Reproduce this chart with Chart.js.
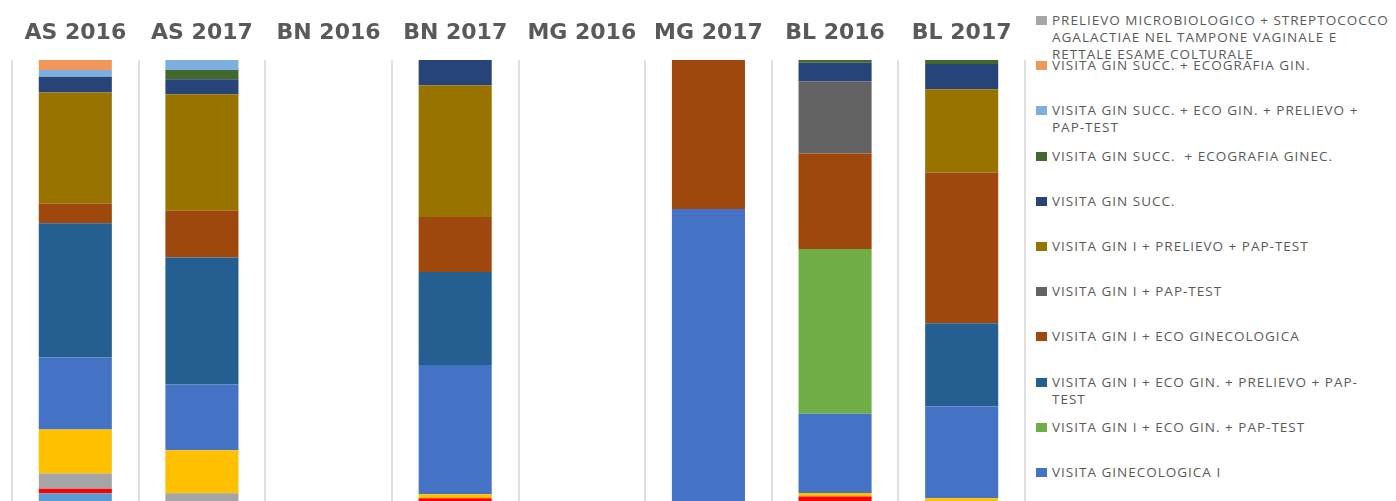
<!DOCTYPE html>
<html>
<head>
<meta charset="utf-8">
<script src="https://cdn.jsdelivr.net/npm/chart.js@4.4.0/dist/chart.umd.min.js"></script>
<style>
  html, body { margin: 0; padding: 0; background: #fff; overflow: hidden; width: 1396px; height: 501px; }
  #wrap { position: absolute; left: 0; top: 0; width: 1030px; height: 510px; }
  #legend { position: absolute; left: 1036px; top: 0; width: 360px; font-family: "Open Sans", sans-serif; font-size: 13.5px; letter-spacing: 1px; color: #595959; }
  .legend-item { position: absolute; left: 0; white-space: nowrap; line-height: 17px; }
  .legend-dot { position: absolute; left: 0; top: 4px; width: 11px; height: 9px; }
  .legend-text { position: absolute; left: 16px; top: 0; }
</style>
</head>
<body>
<div id="wrap"><canvas id="chart"></canvas></div>
<div id="legend"></div>
<script>
// ── Categories (top axis) ──
const categories = ['AS 2016', 'AS 2017', 'BN 2016', 'BN 2017', 'MG 2016', 'MG 2017', 'BL 2016', 'BL 2017'];

// ── Series values, % of each column (bottom of stack first) ──
const serieCeleste      = [3.7, 0,    0, 0,    0, 0,    0,    0];
const serieRossa        = [1.0, 0,    0, 2.6,  0, 0,    3.0,  0];
const serieGrigia       = [3.4, 3.7,  0, 0,    0, 0,    0,    0];
const serieGialla       = [9.8, 9.6,  0, 0.9,  0, 0,    0.8,  2.6];
const visitaGinI        = [16.0, 14.6, 0, 28.7, 0, 66.9, 17.6, 20.4];
const ginIEcoPap        = [0,    0,    0, 0,    0, 0,    36.6, 0];
const ginIEcoPrelPap    = [29.8, 28.2, 0, 20.7, 0, 0,    0,    18.5];
const ginIEco           = [4.4,  10.4, 0, 12.2, 0, 33.1, 21.2, 33.5];
const ginIPap           = [0,    0,    0, 0,    0, 0,    16.1, 0];
const ginIPrelPap       = [24.7, 25.9, 0, 29.3, 0, 0,    0,    18.5];
const ginSucc           = [3.5,  3.3,  0, 5.6,  0, 0,    4.1,  5.6];
const ginSuccEcoGinec   = [0,    2.1,  0, 0,    0, 0,    0.6,  0.9];
const ginSuccEcoPrelPap = [1.5,  2.2,  0, 0,    0, 0,    0,    0];
const ginSuccEcoGin     = [2.2,  0,    0, 0,    0, 0,    0,    0];
const prelievoMicro     = [0,    0,    0, 0,    0, 0,    0,    0];

// ── Series definitions: [label shown in legend, data, colour] ──
const SERIES = [
  [null, serieCeleste, '#5B9BD5'],
  [null, serieRossa, '#FF0000'],
  [null, serieGrigia, '#A5A5A5'],
  [null, serieGialla, '#FFC000'],
  ['VISITA GINECOLOGICA I', visitaGinI, '#4472C4'],
  ['VISITA GIN I + ECO GIN. + PAP-TEST', ginIEcoPap, '#70AD47'],
  ['VISITA GIN I + ECO GIN. + PRELIEVO + PAP-<br>TEST', ginIEcoPrelPap, '#255E91'],
  ['VISITA GIN I + ECO GINECOLOGICA', ginIEco, '#9E480E'],
  ['VISITA GIN I + PAP-TEST', ginIPap, '#636363'],
  ['VISITA GIN I + PRELIEVO + PAP-TEST', ginIPrelPap, '#997300'],
  ['VISITA GIN SUCC.', ginSucc, '#264478'],
  ['VISITA GIN SUCC.&nbsp; + ECOGRAFIA GINEC.', ginSuccEcoGinec, '#43682B'],
  ['VISITA GIN SUCC. + ECO GIN. + PRELIEVO +<br>PAP-TEST', ginSuccEcoPrelPap, '#7CAFDD'],
  ['VISITA GIN SUCC. + ECOGRAFIA GIN.', ginSuccEcoGin, '#F1975A'],
  ['PRELIEVO MICROBIOLOGICO + STREPTOCOCCO<br>AGALACTIAE NEL TAMPONE VAGINALE E<br>RETTALE ESAME COLTURALE', prelievoMicro, '#A5A5A5']
];

new Chart(document.getElementById('chart'), {
  type: 'bar',
  data: {
    labels: categories,
    datasets: SERIES.map(([label, data, color]) => ({
      label: label ? label.replace(/<br>|&nbsp;/g, ' ') : '',
      data,
      backgroundColor: color,
      borderWidth: 0,
      barPercentage: 0.577,
      categoryPercentage: 1
    }))
  },
  options: {
    responsive: true,
    maintainAspectRatio: false,
    animation: false,
    layout: { padding: { top: 5.6, left: 12, right: 5, bottom: 0 } },
    plugins: { legend: { display: false }, tooltip: { enabled: false } },
    scales: {
      x: {
        stacked: true,
        position: 'top',
        border: { display: false },
        grid: { color: '#E0E0E0', lineWidth: 2, drawTicks: false },
        ticks: {
          padding: 14,
          color: '#595959',
          font: { family: 'DejaVu Sans', size: 22, weight: 'bold' }
        }
      },
      y: { stacked: true, display: false, min: 0, max: 100 }
    }
  }
});

// ── Custom HTML legend (top of stack first) ──
const legend = document.getElementById('legend');
legend.innerHTML = SERIES.filter(s => s[0]).reverse().map(([label, , color], i) =>
  `<div class="legend-item" style="top:${12 + i * 45.2}px">
     <span class="legend-dot" style="background:${color}"></span>
     <span class="legend-text">${label}</span>
   </div>`
).join('');
</script>
</body>
</html>
